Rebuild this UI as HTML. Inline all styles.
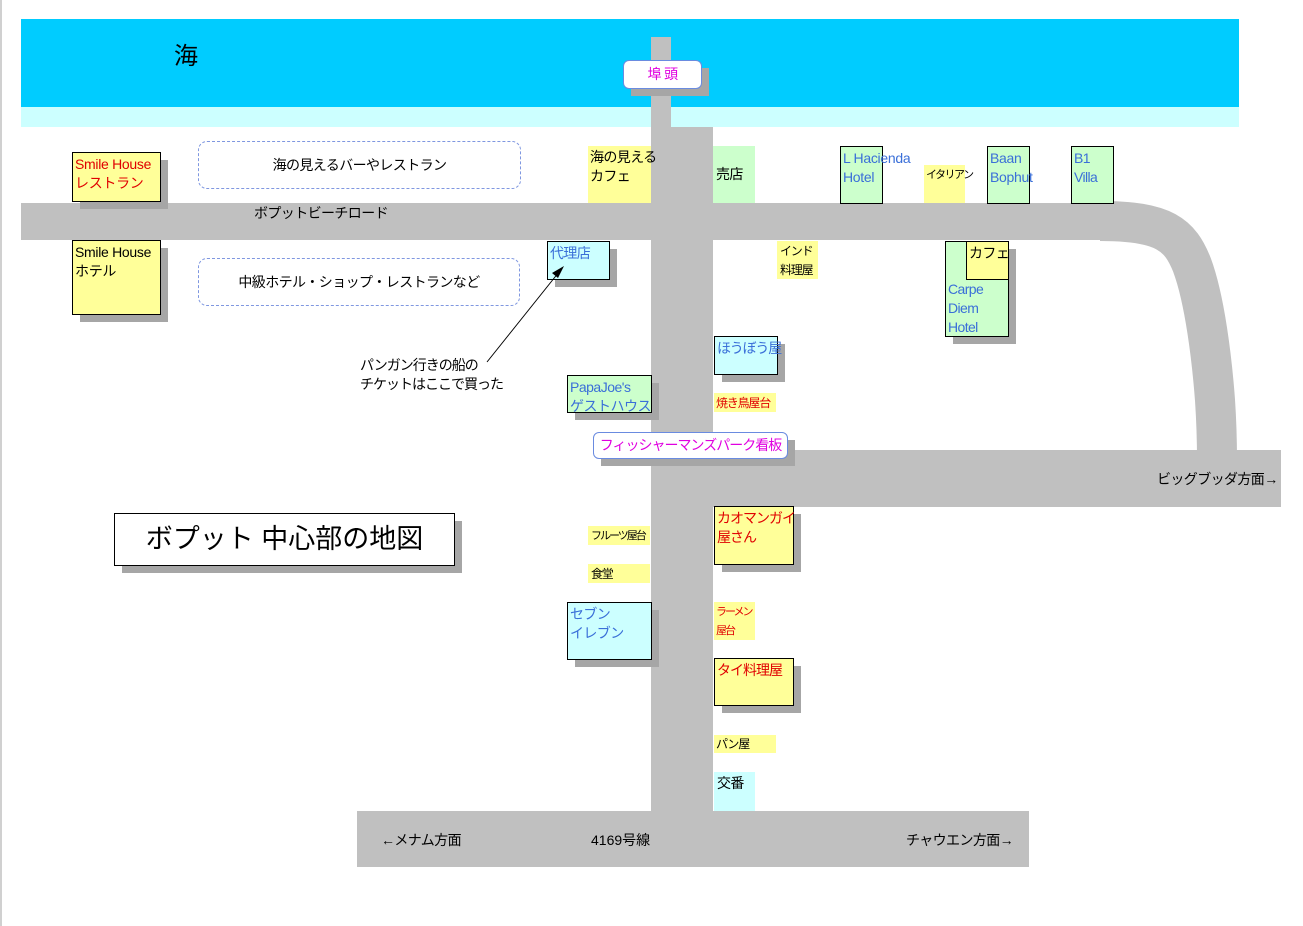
<!DOCTYPE html>
<html><head><meta charset="utf-8"><style>
body{margin:0;width:1303px;height:926px;position:relative;background:#fff;overflow:hidden;font-family:"Liberation Sans","Noto Sans CJK JP",sans-serif;font-size:14px;line-height:19px;white-space:nowrap;letter-spacing:-0.6px}
div{position:absolute;box-sizing:border-box}
.r{background:#c0c0c0}
.sh{background:#a6a6a6}
.y{background:#ffff99}
.g{background:#ccffcc}
.c{background:#ccffff}
.b{border:1px solid #000}
.t{padding:2px 0 0 2px}
.red{color:#e00000}.blu{color:#3a6fd8}
.sm{font-size:12px;letter-spacing:-1.2px}
.xs{font-size:11px;letter-spacing:-1.5px}
</style></head><body>
<div style="left:0;top:0;width:2px;height:926px;background:#d0d0d0"></div>
<div style="left:21px;top:19px;width:1218px;height:88px;background:#00ccff"></div>
<div style="left:21px;top:107px;width:1218px;height:20px;background:#ccffff"></div>
<div style="left:174px;top:42px;font-size:24px;line-height:30px">海</div>
<!-- roads -->
<div class="r" style="left:651px;top:37px;width:20px;height:100px"></div>
<div class="r" style="left:651px;top:127px;width:62px;height:700px"></div>
<div class="r" style="left:21px;top:203px;width:1100px;height:37px"></div>
<svg style="position:absolute;left:0;top:0" width="1303" height="926"><path d="M1100 221 C1165 221 1180 235 1192 265 C1205 300 1212 360 1215 400 C1217 430 1217 445 1217 460" fill="none" stroke="#c0c0c0" stroke-width="40"/></svg>
<div class="r" style="left:713px;top:450px;width:568px;height:57px"></div>
<div class="r" style="left:357px;top:811px;width:672px;height:56px"></div>
<div style="left:254px;top:204px">ボプットビーチロード</div>
<div style="left:1157px;top:470px">ビッグブッダ方面→</div>
<div style="left:381px;top:831px">←メナム方面</div>
<div style="left:591px;top:831px;letter-spacing:0">4169号線</div>
<div style="left:906px;top:831px">チャウエン方面→</div>
<!-- shadows -->
<div class="sh" style="left:80px;top:160px;width:88px;height:49px"></div>
<div class="sh" style="left:80px;top:248px;width:88px;height:74px"></div>
<div class="sh" style="left:555px;top:249px;width:62px;height:38px"></div>
<div class="sh" style="left:953px;top:249px;width:63px;height:95px"></div>
<div class="sh" style="left:974px;top:249px;width:42px;height:38px"></div>
<div class="sh" style="left:722px;top:344px;width:63px;height:38px"></div>
<div class="sh" style="left:575px;top:383px;width:84px;height:37px"></div>
<div class="sh" style="left:601px;top:440px;width:194px;height:26px"></div>
<div class="sh" style="left:631px;top:68px;width:78px;height:28px"></div>
<div class="sh" style="left:122px;top:521px;width:340px;height:52px"></div>
<div class="sh" style="left:722px;top:514px;width:79px;height:58px"></div>
<div class="sh" style="left:575px;top:610px;width:84px;height:57px"></div>
<div class="sh" style="left:722px;top:666px;width:79px;height:47px"></div>
<!-- boxes -->
<div class="y b t red" style="left:72px;top:152px;width:89px;height:50px;letter-spacing:-0.3px">Smile House<br>レストラン</div>
<div class="y b t" style="left:72px;top:240px;width:89px;height:75px;letter-spacing:-0.3px">Smile House<br>ホテル</div>
<div style="left:198px;top:141px;width:323px;height:48px;border:1px dashed #7f97e0;border-radius:9px;text-align:center;line-height:46px">海の見えるバーやレストラン</div>
<div style="left:198px;top:258px;width:322px;height:48px;border:1px dashed #7f97e0;border-radius:9px;text-align:center;line-height:46px">中級ホテル・ショップ・レストランなど</div>
<div class="y t" style="left:588px;top:146px;width:63px;height:57px">海の見える<br>カフェ</div>
<div class="g" style="left:713px;top:146px;width:42px;height:57px;padding:19px 0 0 3px">売店</div>
<div class="g b t blu" style="left:840px;top:146px;width:43px;height:58px;overflow:visible;letter-spacing:-0.3px">L Hacienda<br>Hotel</div>
<div class="y xs" style="left:924px;top:165px;width:41px;height:38px;padding:1px 0 0 2px">イタリアン</div>
<div class="g b t blu" style="left:987px;top:146px;width:43px;height:58px;overflow:visible;letter-spacing:-0.3px">Baan<br>Bophut</div>
<div class="g b t blu" style="left:1071px;top:146px;width:43px;height:58px">B1<br>Villa</div>
<div class="c b t blu" style="left:547px;top:241px;width:63px;height:39px">代理店</div>
<div class="y sm" style="left:777px;top:241px;width:41px;height:38px;padding:1px 0 0 3px;line-height:19px">インド<br>料理屋</div>
<div class="g b blu" style="left:945px;top:241px;width:64px;height:96px;padding:38px 0 0 2px">Carpe<br>Diem<br>Hotel</div>
<div class="y b t" style="left:966px;top:241px;width:43px;height:39px">カフェ</div>
<div class="c b t blu" style="left:714px;top:336px;width:64px;height:39px;letter-spacing:-1.2px">ほうぼう屋</div>
<div style="left:360px;top:356px;letter-spacing:-1px">パンガン行きの船の<br>チケットはここで買った</div>
<div class="g b t blu" style="left:567px;top:375px;width:85px;height:38px;letter-spacing:-0.5px">PapaJoe's<br>ゲストハウス</div>
<div class="y red sm" style="left:714px;top:393px;width:62px;height:19px;padding:1px 0 0 2px">焼き鳥屋台</div>
<div style="left:593px;top:432px;width:195px;height:27px;border:1px solid #6a8be0;border-radius:6px;background:#fff;color:#e000e0;text-align:center;line-height:25px;letter-spacing:-1px">フィッシャーマンズパーク看板</div>
<div style="left:623px;top:60px;width:79px;height:29px;border:1px solid #6a8be0;border-radius:6px;background:#fff;color:#e000e0;text-align:center;line-height:27px">埠 頭</div>
<div style="left:114px;top:513px;width:341px;height:53px;border:1px solid #000;background:#fff;text-align:center;font-size:27px;line-height:51px;letter-spacing:0">ボプット 中心部の地図</div>
<div class="y b t red" style="left:714px;top:506px;width:80px;height:59px;letter-spacing:-1px">カオマンガイ<br>屋さん</div>
<div class="y xs" style="left:588px;top:526px;width:62px;height:19px;padding:1px 0 0 3px;letter-spacing:-2px">フルーツ屋台</div>
<div class="y sm" style="left:588px;top:564px;width:62px;height:19px;padding:1px 0 0 3px">食堂</div>
<div class="c b t blu" style="left:567px;top:602px;width:85px;height:58px">セブン<br>イレブン</div>
<div class="y red xs" style="left:714px;top:602px;width:41px;height:38px;padding:1px 0 0 2px;line-height:19px;letter-spacing:-2px">ラーメン<br>屋台</div>
<div class="y b t red" style="left:714px;top:658px;width:80px;height:48px;letter-spacing:-1px">タイ料理屋</div>
<div class="y sm" style="left:714px;top:735px;width:62px;height:18px;padding:0 0 0 2px">パン屋</div>
<div class="c" style="left:714px;top:772px;width:41px;height:39px;padding:2px 0 0 3px">交番</div>
<svg style="position:absolute;left:0;top:0" width="1303" height="926"><line x1="487" y1="362" x2="559" y2="272" stroke="#000" stroke-width="1"/><polygon points="564,266 552,273 558,278" fill="#000"/></svg>
</body></html>
